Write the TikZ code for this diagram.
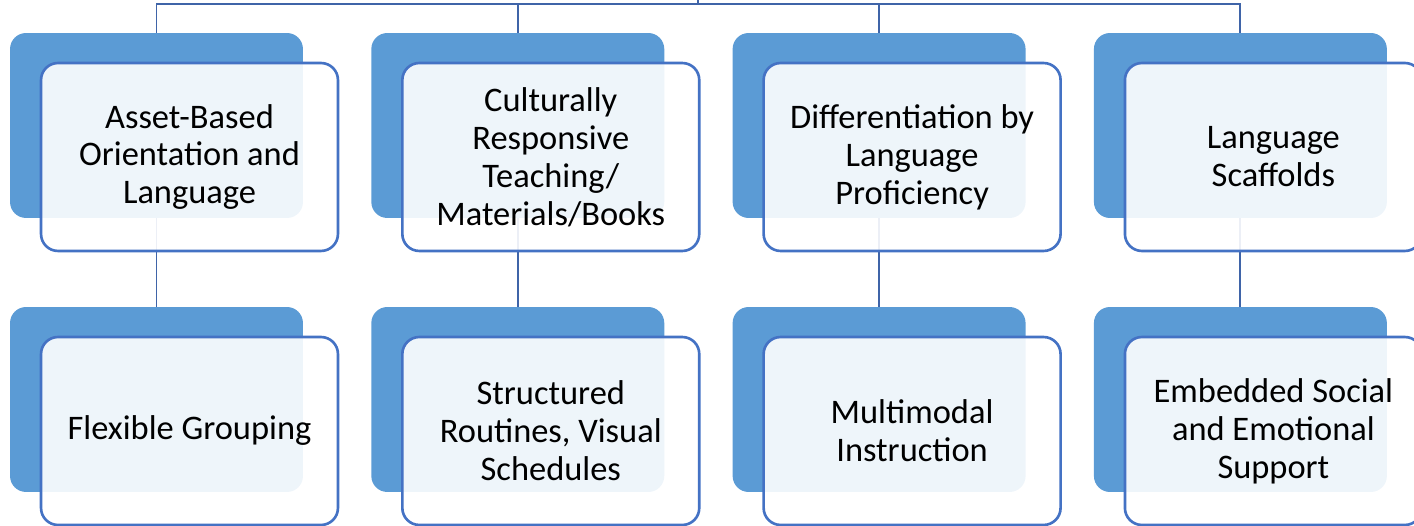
\documentclass[tikz,border=0pt]{standalone}
\usepackage{fontspec}
\setmainfont{Carlito}
\definecolor{backblue}{HTML}{5B9BD5}
\definecolor{edgeblue}{HTML}{4472C4}
\definecolor{linkblue}{HTML}{3F64A8}
\tikzset{
  backbox/.style={fill=backblue, rounded corners=0.32cm, minimum width=5.86cm, minimum height=3.7cm, inner sep=0pt},
  frontbox/.style={draw=edgeblue, line width=1.5pt, fill=white, fill opacity=0.9, text opacity=1, rounded corners=0.34cm,
    minimum width=5.94cm, minimum height=3.76cm, inner sep=0pt, align=center,
    font=\fontsize{19.6}{21.6}\selectfont},
  link/.style={draw=linkblue, line width=1.1pt}
}
\begin{document}
\begin{tikzpicture}[x=0.02cm, y=-0.02cm]
    \def\colgap{361.3}
    \def\backx{156.5}
    \def\frontx{189.5}
    \def\backya{125.5}
    \def\frontya{157}
    \def\backyb{399.5}
    \def\frontyb{431}

    \useasboundingbox (0,0) rectangle (1414,526);

    % back boxes
    \foreach \i in {1,...,4} {
      \node[backbox] (b1\i) at ({\backx+(\i-1)*\colgap},\backya) {};
      \node[backbox] (b2\i) at ({\backx+(\i-1)*\colgap},\backyb) {};
    }

    % connectors
    \coordinate (hub) at (698,0);
    \coordinate (bar) at (698,4);
    \draw[link] (hub) -- (bar);
    \foreach \i in {1,...,4} {
      \draw[link] (bar) -| (b1\i.north);
      \draw[link] (b1\i.south) -- (b2\i.north);
    }

    % front boxes
    \node[frontbox] (f11) at (\frontx,\frontya) {Asset-Based\\Orientation and\\Language};
    \node[frontbox] (f12) at ({\frontx+\colgap},\frontya) {Culturally\\Responsive\\Teaching/\\Materials/Books};
    \node[frontbox] (f13) at ({\frontx+2*\colgap},\frontya) {Differentiation by\\Language\\Proficiency};
    \node[frontbox] (f14) at ({\frontx+3*\colgap},\frontya) {Language\\Scaffolds};

    \node[frontbox] (f21) at (\frontx,\frontyb) {Flexible Grouping};
    \node[frontbox] (f22) at ({\frontx+\colgap},\frontyb) {Structured\\Routines, Visual\\Schedules};
    \node[frontbox] (f23) at ({\frontx+2*\colgap},\frontyb) {Multimodal\\Instruction};
    \node[frontbox] (f24) at ({\frontx+3*\colgap},\frontyb) {Embedded Social\\and Emotional\\Support};
\end{tikzpicture}
\end{document}
